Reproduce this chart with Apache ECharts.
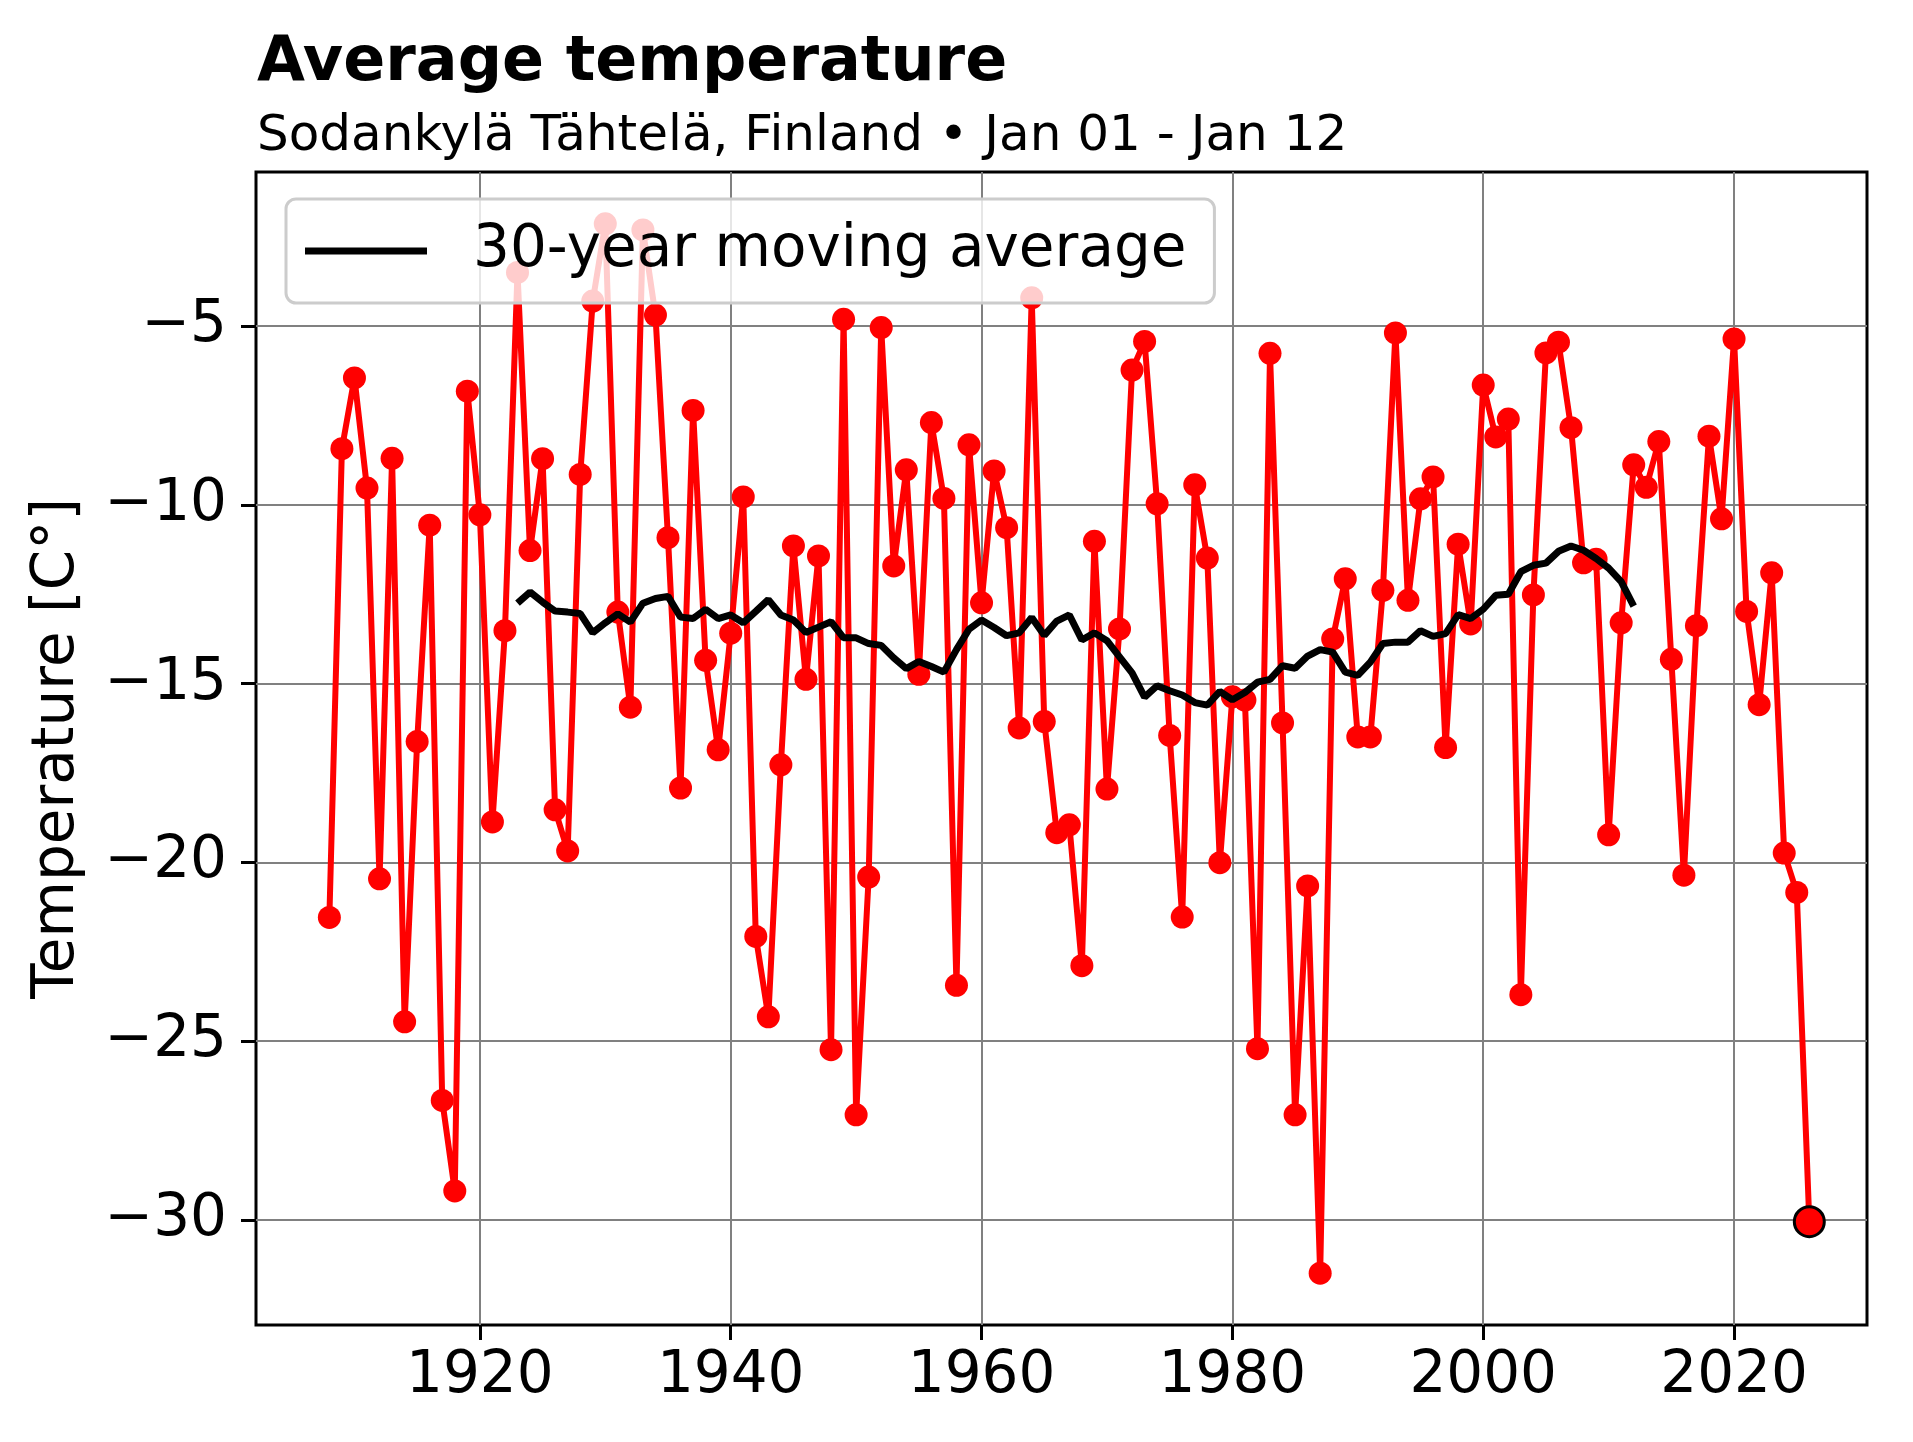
<!DOCTYPE html>
<html>
<head>
<meta charset="utf-8">
<script src="https://cdn.jsdelivr.net/npm/echarts@6/dist/echarts.min.js"></script>
<style>
html,body{margin:0;padding:0;background:#fff;}
#chart{width:1913px;height:1442px;}
</style>
</head>
<body>
<div id="chart"></div>
<script>
// ---- data ----
const tempYears = [
1908,1909,1910,1911,1912,1913,1914,1915,1916,1917,
1918,1919,1920,1921,1922,1923,1924,1925,1926,1927,
1928,1929,1930,1931,1932,1933,1934,1935,1936,1937,
1938,1939,1940,1941,1942,1943,1944,1945,1946,1947,
1948,1949,1950,1951,1952,1953,1954,1955,1956,1957,
1958,1959,1960,1961,1962,1963,1964,1965,1966,1967,
1968,1969,1970,1971,1972,1973,1974,1975,1976,1977,
1978,1979,1980,1981,1982,1983,1984,1985,1986,1987,
1988,1989,1990,1991,1992,1993,1994,1995,1996,1997,
1998,1999,2000,2001,2002,2003,2004,2005,2006,2007,
2008,2009,2010,2011,2012,2013,2014,2015,2016,2017,
2018,2019,2020,2021,2022,2023,2024,2025,2026];
const temps = [
-21.54,-8.43,-6.45,-9.53,-20.46,-8.70,-24.46,-16.62,-10.57,-26.66,
-29.19,-6.82,-10.28,-18.87,-13.52,-3.50,-11.28,-8.71,-18.53,-19.68,
-9.15,-4.30,-2.14,-13.00,-15.66,-2.31,-4.69,-10.92,-17.92,-7.36,
-14.35,-16.85,-13.59,-9.78,-22.07,-24.32,-17.27,-11.15,-14.88,-11.43,
-25.24,-4.81,-27.06,-20.41,-5.04,-11.71,-9.02,-14.74,-7.70,-9.82,
-23.44,-8.32,-12.74,-9.05,-10.64,-16.24,-4.21,-16.06,-19.17,-18.95,
-22.89,-11.02,-17.95,-13.47,-6.23,-5.43,-9.97,-16.45,-21.53,-9.44,
-11.49,-20.01,-15.37,-15.46,-25.21,-5.76,-16.10,-27.06,-20.66,-31.49,
-13.75,-12.07,-16.49,-16.49,-12.39,-5.19,-12.67,-9.83,-9.22,-16.79,
-11.10,-13.33,-6.65,-8.10,-7.60,-23.70,-12.52,-5.75,-5.45,-7.84,
-11.62,-11.52,-19.23,-13.30,-8.88,-9.51,-8.23,-14.32,-20.36,-13.38,
-8.08,-10.39,-5.36,-12.98,-15.59,-11.90,-19.74,-20.84,-30.05];
const highlightYear = 2026;

const maYears = [
1923,1924,1925,1926,1927,1928,1929,1930,1931,1932,
1933,1934,1935,1936,1937,1938,1939,1940,1941,1942,
1943,1944,1945,1946,1947,1948,1949,1950,1951,1952,
1953,1954,1955,1956,1957,1958,1959,1960,1961,1962,
1963,1964,1965,1966,1967,1968,1969,1970,1971,1972,
1973,1974,1975,1976,1977,1978,1979,1980,1981,1982,
1983,1984,1985,1986,1987,1988,1989,1990,1991,1992,
1993,1994,1995,1996,1997,1998,1999,2000,2001,2002,
2003,2004,2005,2006,2007,2008,2009,2010,2011,2012];
const maValues = [
-12.75,-12.44,-12.72,-12.97,-13.00,-13.04,-13.58,-13.30,-13.05,-13.28,
-12.75,-12.62,-12.56,-13.14,-13.18,-12.92,-13.18,-13.08,-13.30,-12.98,
-12.65,-13.08,-13.22,-13.57,-13.42,-13.27,-13.72,-13.72,-13.88,-13.93,
-14.28,-14.58,-14.38,-14.52,-14.68,-14.05,-13.48,-13.22,-13.43,-13.66,
-13.58,-13.15,-13.65,-13.25,-13.08,-13.78,-13.58,-13.80,-14.25,-14.70,
-15.38,-15.06,-15.20,-15.32,-15.53,-15.60,-15.22,-15.45,-15.25,-14.96,
-14.88,-14.50,-14.57,-14.23,-14.05,-14.12,-14.68,-14.77,-14.40,-13.88,
-13.84,-13.84,-13.52,-13.68,-13.60,-13.07,-13.18,-12.92,-12.53,-12.50,
-11.87,-11.69,-11.63,-11.30,-11.15,-11.27,-11.50,-11.77,-12.15,-12.83];

const xTicks = [1920,1940,1960,1980,2000,2020];
const yTicks = [-30,-25,-20,-15,-10,-5];

const titleText = 'Average temperature';
const subtitleText = 'Sodankylä Tähtelä, Finland \u2022 Jan 01 - Jan 12';
const yName = 'Temperature [C\u00b0]';
const maName = '30-year moving average';

// ---- chart ----
const FONT = 'DejaVu Sans';
const chart = echarts.init(document.getElementById('chart'), null, {renderer: 'canvas'});

const tempData = tempYears.map((y, i) => {
  if (y === highlightYear) {
    return {value: [y, temps[i]], symbolSize: 30,
      itemStyle: {color: '#ff0000', borderColor: '#000000', borderWidth: 3}};
  }
  return [y, temps[i]];
});
const maData = maYears.map((y, i) => [y, maValues[i]]);

const minus = v => (v < 0 ? '\u2212' : '') + Math.abs(v);

chart.setOption({
  animation: false,
  backgroundColor: '#ffffff',
  textStyle: {fontFamily: FONT, color: '#000'},
  title: [
    {text: titleText, left: 252, top: 28,
     textStyle: {fontFamily: FONT, fontSize: 62, fontWeight: 'bold', color: '#000'}},
    {text: subtitleText, left: 252, top: 107,
     textStyle: {fontFamily: FONT, fontSize: 50, fontWeight: 'normal', color: '#000'}}
  ],
  grid: {left: 256, right: 46, top: 172, bottom: 117, show: true,
         borderColor: '#000', borderWidth: 3, backgroundColor: 'transparent'},
  legend: {
    data: [{name: maName, icon: 'rect'}],
    left: 286, top: 199,
    orient: 'horizontal',
    itemWidth: 122, itemHeight: 7,
    padding: [23, 28, 23, 19],
    backgroundColor: 'rgba(255,255,255,0.8)',
    borderColor: '#cccccc', borderWidth: 3, borderRadius: 10,
    textStyle: {fontFamily: FONT, fontSize: 58, color: '#000', padding: [0, 0, 0, 41]},
    selectedMode: false
  },
  xAxis: {
    type: 'value', min: 1902.15, max: 2030.6,
    axisLine: {show: false},
    axisTick: {show: true, inside: false, length: 15, lineStyle: {color: '#000', width: 3}, customValues: xTicks},
    axisLabel: {show: true, margin: 23, fontFamily: FONT, fontSize: 58, color: '#000', customValues: xTicks,
                formatter: v => String(v)},
    splitLine: {show: true, lineStyle: {color: '#808080', width: 2}}
  },
  yAxis: {
    type: 'value', min: -32.94, max: -0.69,
    name: yName, nameLocation: 'middle', nameGap: 169, nameRotate: 90,
    nameTextStyle: {fontFamily: FONT, fontSize: 58, color: '#000'},
    axisLine: {show: false},
    axisTick: {show: true, inside: false, length: 15, lineStyle: {color: '#000', width: 3}, customValues: yTicks},
    axisLabel: {show: true, margin: 29, fontFamily: FONT, fontSize: 58, color: '#000', customValues: yTicks,
                formatter: minus},
    splitLine: {show: true, lineStyle: {color: '#808080', width: 2}}
  },
  series: [
    {
      name: 'Temperature', type: 'line', data: tempData,
      symbol: 'circle', symbolSize: 23, showAllSymbol: true,
      lineStyle: {color: '#ff0000', width: 6},
      itemStyle: {color: '#ff0000'},
      emphasis: {disabled: true}, z: 2
    },
    {
      name: maName, type: 'line', data: maData,
      symbol: 'none', showSymbol: false,
      lineStyle: {color: '#000000', width: 7},
      itemStyle: {color: '#000000'},
      emphasis: {disabled: true}, z: 3
    }
  ]
});
</script>
</body>
</html>
